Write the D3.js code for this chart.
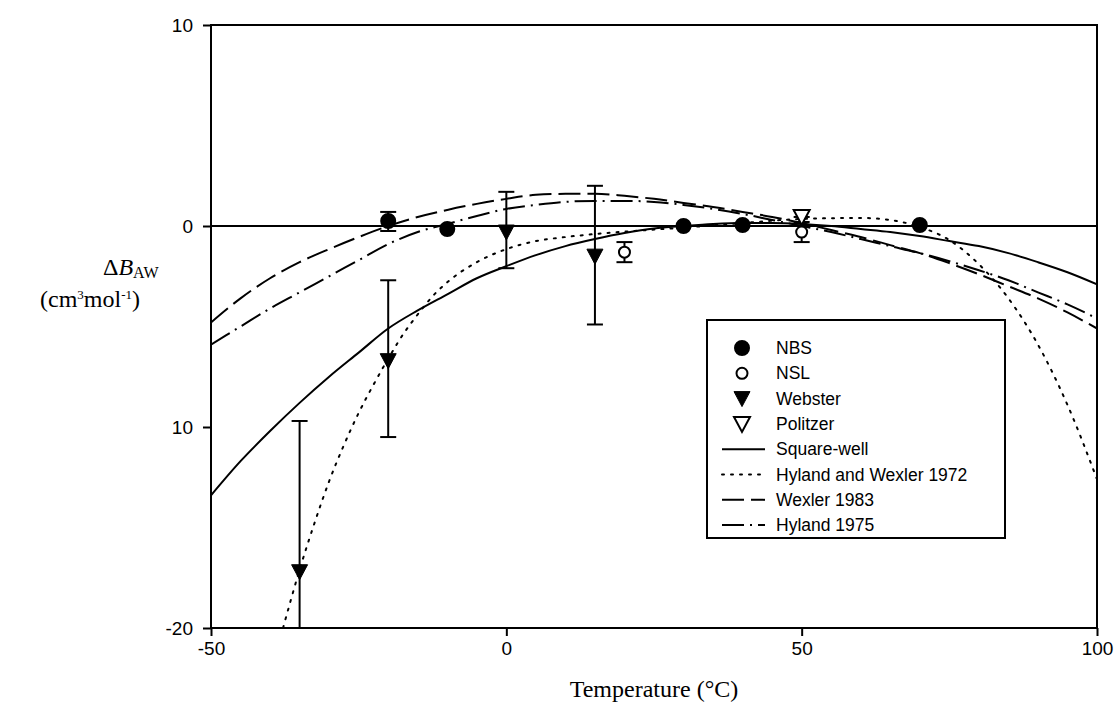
<!DOCTYPE html>
<html><head><meta charset="utf-8">
<script src="https://cdn.jsdelivr.net/npm/d3@7"></script>
<style>body{margin:0;background:#fff}</style>
</head><body>
<svg id="c" width="1119" height="714"></svg>
<script>
// ---- data ----
const xTickValues = [-50, 0, 50, 100];
const xTickLabels = ["-50", "0", "50", "100"];
const yTickValues = [10, 0, -10, -20];
const yTickLabels = ["10", "0", "10", "-20"];

// NBS (filled circles)
const nbsT   = [-20, -10, 30, 40, 70];
const nbsV   = [0.25, -0.15, 0.0, 0.05, 0.05];
const nbsLo  = [-0.25, null, null, null, null];
const nbsHi  = [0.7, null, null, null, null];
// NSL (open circles)
const nslT   = [20, 50];
const nslV   = [-1.3, -0.3];
const nslLo  = [-1.8, -0.8];
const nslHi  = [-0.8, 0.2];
// Webster (filled down triangles)
const webT   = [-35, -20, 0, 15];
const webV   = [-17.2, -6.7, -0.3, -1.5];
const webLo  = [-20, -10.5, -2.1, -4.9];
const webHi  = [-9.7, -2.7, 1.7, 2.0];
// Politzer (open down triangles)
const polT   = [50];
const polV   = [0.45];
const polLo  = [0.45];
const polHi  = [0.75];

// curves
const sqT  = [-50,-45,-40,-35,-30,-25,-20,-15,-10,-5,0,5,10,15,20,25,30,35,40,45,50,55,60,65,70,75,80,85,90,95,100];
const sqV  = [-13.4,-11.7,-10.2,-8.8,-7.5,-6.3,-5.1,-4.2,-3.4,-2.6,-2.0,-1.45,-1.0,-0.65,-0.35,-0.12,0.0,0.1,0.15,0.15,0.1,0.0,-0.15,-0.3,-0.5,-0.75,-1.0,-1.35,-1.8,-2.3,-2.9];
const hw72T = [-37.8,-35,-32.5,-30,-27.5,-25,-22.5,-20,-17.5,-15,-12.5,-10,-5,0,5,10,15,20,30,40,50,60,65,70,75,80,85,90,95,100];
const hw72V = [-20,-17.1,-14.8,-12.7,-10.9,-9.3,-7.9,-6.6,-5.4,-4.4,-3.5,-2.8,-1.8,-1.15,-0.75,-0.55,-0.4,-0.28,-0.08,0.15,0.35,0.4,0.3,-0.05,-0.7,-1.9,-3.6,-5.9,-8.9,-12.6];
const wx83T = [-50,-45,-40,-35,-30,-25,-20,-15,-10,-5,0,5,10,15,20,25,30,35,40,45,50,55,60,65,70,75,80,85,90,95,100];
const wx83V = [-4.8,-3.6,-2.6,-1.8,-1.15,-0.55,0.0,0.45,0.8,1.1,1.35,1.55,1.6,1.6,1.5,1.35,1.15,0.95,0.7,0.45,0.15,-0.2,-0.55,-0.95,-1.35,-1.85,-2.4,-3.0,-3.6,-4.3,-5.1];
const hy75T = wx83T;
const hy75V = [-5.9,-5.0,-4.1,-3.3,-2.5,-1.7,-0.9,-0.3,0.1,0.5,0.85,1.05,1.2,1.25,1.25,1.2,1.05,0.85,0.6,0.3,0.0,-0.3,-0.65,-1.0,-1.35,-1.75,-2.2,-2.7,-3.3,-3.9,-4.6];

const legendLabels = ["NBS","NSL","Webster","Politzer","Square-well","Hyland and Wexler 1972","Wexler 1983","Hyland 1975"];

// ---- drawing ----
const svg = d3.select("#c");
const x = d3.scaleLinear().domain([-50,100]).range([211,1097]);
const y = d3.scaleLinear().domain([-20,10]).range([628,25]);
const sans = "Liberation Sans, Arial, sans-serif";
const serif = "Liberation Serif, Times New Roman, serif";

// frame
svg.append("rect").attr("x",x(-50)).attr("y",y(10)).attr("width",x(100)-x(-50)).attr("height",y(-20)-y(10))
  .attr("fill","none").attr("stroke","#000").attr("stroke-width",2);
// zero line
svg.append("line").attr("x1",x(-50)).attr("x2",x(100)).attr("y1",y(0)).attr("y2",y(0)).attr("stroke","#000").attr("stroke-width",2);

// axes
const xAxis = d3.axisBottom(x).tickValues(xTickValues).tickFormat((d,i)=>xTickLabels[i]).tickSize(8).tickPadding(6);
const gx = svg.append("g").attr("transform",`translate(0,${y(-20)})`).call(xAxis);
const yAxis = d3.axisLeft(y).tickValues(yTickValues).tickFormat((d,i)=>yTickLabels[i]).tickSize(8).tickPadding(10);
const gy = svg.append("g").attr("transform",`translate(${x(-50)},0)`).call(yAxis);
[gx,gy].forEach(g=>{
  g.select(".domain").remove();
  g.selectAll("line").attr("stroke","#000").attr("stroke-width",2);
  g.selectAll("text").attr("font-family",sans).attr("font-size",19).attr("fill","#000");
});

// curves
const clipId = "pc";
svg.append("clipPath").attr("id",clipId).append("rect").attr("x",x(-50)).attr("y",y(10)).attr("width",x(100)-x(-50)).attr("height",y(-20)-y(10));
const line = d3.line().curve(d3.curveMonotoneX);
function curve(T,V,dash){
  svg.append("path").attr("d",line(T.map((t,i)=>[x(t),y(V[i])])))
    .attr("fill","none").attr("stroke","#000").attr("stroke-width",2)
    .attr("stroke-dasharray",dash).attr("stroke-linecap",dash==="2,7"?"round":"butt")
    .attr("clip-path",`url(#${clipId})`);
}
const styles = {sq:null, hw:"2,7", wx:"22,7", hy:"22,6,2,6"};
curve(sqT,sqV,styles.sq);
curve(hw72T,hw72V,styles.hw);
curve(wx83T,wx83V,styles.wx);
curve(hy75T,hy75V,styles.hy);

// error bars
function errbars(T,Lo,Hi){
  T.forEach((t,i)=>{
    if(Lo[i]==null) return;
    const xx=x(t);
    svg.append("line").attr("x1",xx).attr("x2",xx).attr("y1",y(Lo[i])).attr("y2",y(Hi[i])).attr("stroke","#000").attr("stroke-width",2);
    svg.append("line").attr("x1",xx-8).attr("x2",xx+8).attr("y1",y(Hi[i])).attr("y2",y(Hi[i])).attr("stroke","#000").attr("stroke-width",2);
    if(Lo[i]>-20) svg.append("line").attr("x1",xx-8).attr("x2",xx+8).attr("y1",y(Lo[i])).attr("y2",y(Lo[i])).attr("stroke","#000").attr("stroke-width",2);
  });
}
errbars(nbsT,nbsLo,nbsHi);
errbars(nslT,nslLo,nslHi);
errbars(webT,webLo,webHi);
errbars(polT,polLo,polHi);

const tri = "M-8,-7L8,-7L0,8Z";
function circ(cx,cy,filled){
  svg.append("circle").attr("cx",cx).attr("cy",cy).attr("r",filled?7:5.5)
    .attr("fill",filled?"#000":"#fff").attr("stroke","#000").attr("stroke-width",2);
}
function triang(cx,cy,filled){
  svg.append("path").attr("d",tri).attr("transform",`translate(${cx},${cy})`)
    .attr("fill",filled?"#000":"#fff").attr("stroke","#000").attr("stroke-width",filled?1:2);
}
nbsT.forEach((t,i)=>circ(x(t),y(nbsV[i]),true));
nslT.forEach((t,i)=>circ(x(t),y(nslV[i]),false));
webT.forEach((t,i)=>triang(x(t),y(webV[i]),true));
polT.forEach((t,i)=>triang(x(t),y(polV[i]),false));

// legend
const lg = svg.append("g");
lg.append("rect").attr("x",707).attr("y",320).attr("width",298).attr("height",218)
  .attr("fill","#fff").attr("stroke","#000").attr("stroke-width",2);
legendLabels.forEach((lab,i)=>{
  const yy = 348 + i*25.3;
  if(i===0) circ(742,yy,true);
  else if(i===1) circ(742,yy,false);
  else if(i===2) triang(742,yy,true);
  else if(i===3) triang(742,yy,false);
  else {
    const dash=[styles.sq,styles.hw,styles.wx,styles.hy][i-4];
    lg.append("line").attr("x1",722).attr("x2",765).attr("y1",yy).attr("y2",yy)
      .attr("stroke","#000").attr("stroke-width",2).attr("stroke-dasharray",dash)
      .attr("stroke-linecap",dash==="2,7"?"round":"butt");
  }
  svg.append("text").attr("x",776).attr("y",yy+6).attr("font-family",sans).attr("font-size",17.5).text(lab);
});

// axis titles
svg.append("text").attr("x",654).attr("y",697).attr("text-anchor","middle").attr("font-family",serif).attr("font-size",24).text("Temperature (°C)");
const t1 = svg.append("text").attr("x",103).attr("y",275).attr("font-family",serif).attr("font-size",24);
t1.append("tspan").text("Δ");
t1.append("tspan").attr("font-style","italic").text("B");
t1.append("tspan").attr("font-size",16).attr("dy",3).text("AW");
const t2 = svg.append("text").attr("x",90).attr("y",307).attr("text-anchor","middle").attr("font-family",serif).attr("font-size",24);
t2.append("tspan").text("(cm");
t2.append("tspan").attr("font-size",13).attr("dy",-8).text("3");
t2.append("tspan").attr("dy",8).text("mol");
t2.append("tspan").attr("font-size",13).attr("dy",-8).text("-1");
t2.append("tspan").attr("dy",8).text(")");
</script>
</body></html>
